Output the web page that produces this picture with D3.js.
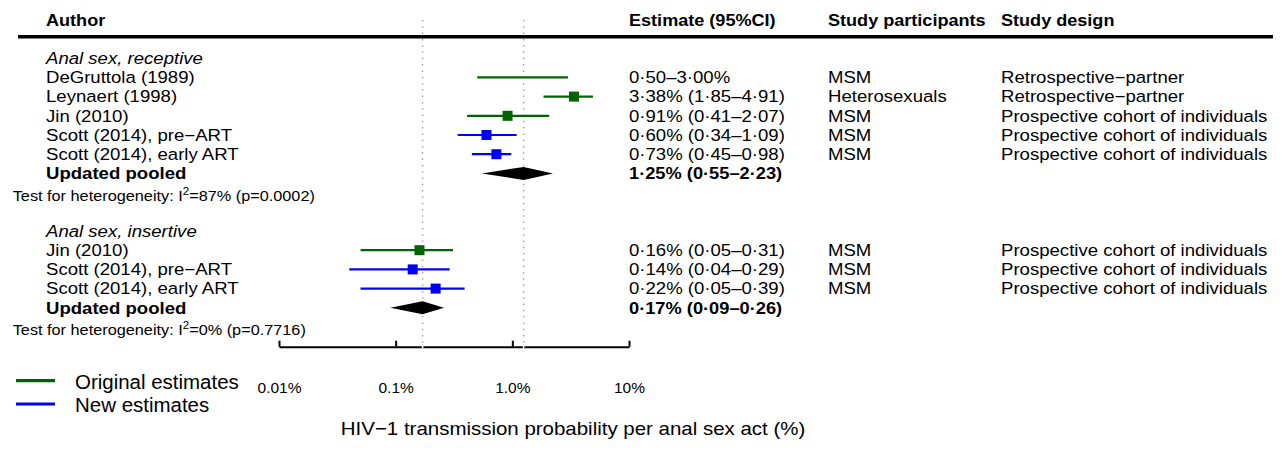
<!DOCTYPE html>
<html>
<head>
<meta charset="utf-8">
<script src="https://cdn.jsdelivr.net/npm/d3@7"></script>
<style>
  body { margin: 0; background: #fff; }
  text { font-family: "Liberation Sans", Arial, sans-serif; fill: #000; }
</style>
</head>
<body>
<div id="chart"></div>
<script>
// data
////////////////////////////
var groupNames = ['Anal sex, receptive', 'Anal sex, insertive'];

var studyGroup = [0, 0, 0, 0, 0, 1, 1, 1];
var studyNames = ['DeGruttola (1989)', 'Leynaert (1998)', 'Jin (2010)',
  'Scott (2014), pre\u2212ART', 'Scott (2014), early ART',
  'Jin (2010)', 'Scott (2014), pre\u2212ART', 'Scott (2014), early ART'];
var studyEst = [null, 3.38, 0.91, 0.60, 0.73, 0.16, 0.14, 0.22];
var studyLo  = [0.50, 1.85, 0.41, 0.34, 0.45, 0.05, 0.04, 0.05];
var studyHi  = [3.00, 4.91, 2.07, 1.09, 0.98, 0.31, 0.29, 0.39];
var studySource = ['orig', 'orig', 'orig', 'new', 'new', 'orig', 'new', 'new'];
var studyParticipants = ['MSM', 'Heterosexuals', 'MSM', 'MSM', 'MSM', 'MSM', 'MSM', 'MSM'];
var studyDesign = ['Retrospective\u2212partner', 'Retrospective\u2212partner',
  'Prospective cohort of individuals', 'Prospective cohort of individuals',
  'Prospective cohort of individuals', 'Prospective cohort of individuals',
  'Prospective cohort of individuals', 'Prospective cohort of individuals'];

var pooledEst = [1.25, 0.17];
var pooledLo  = [0.55, 0.09];
var pooledHi  = [2.23, 0.26];
var hetI2 = ['87%', '0%'];
var hetP  = ['0.7716', '0.7716'];
hetP[0] = '0.0002';

var tickValues = [0.01, 0.1, 1, 10];
var tickLabels = ['0.01%', '0.1%', '1.0%', '10%'];

var headers = ['Author', 'Estimate (95%CI)', 'Study participants', 'Study design'];
var legendLabels = ['Original estimates', 'New estimates'];
var xTitle = 'HIV\u22121 transmission probability per anal sex act (%)';

var colors = { orig: '#006400', new: '#0000ff' };

// layout
////////////////////
var width = 1287, height = 453;

var svg = d3.select('#chart')
  .append('svg')
  .attr('width', width)
  .attr('height', height);

svg.append('rect')
  .attr('width', width)
  .attr('height', height)
  .attr('fill', '#fff');

var x = d3.scaleLog().domain([0.01, 10]).range([279, 629]);
var y = d3.scaleLinear().domain([0, 15]).range([58.2, 346.2]);

var col = { author: 46, est: 629, part: 828, design: 1001 };

function fmt(v) {
  return d3.format('.2f')(v).replace('.', '\u00b7');
}

function addText(str, px, py, size, sx, weight, style) {
  return svg.append('text')
    .attr('transform', 'translate(' + px + ',' + py + ') scale(' + sx + ',1)')
    .style('font-size', size + 'px')
    .style('font-weight', weight || 'normal')
    .style('font-style', style || 'normal')
    .text(str);
}

// work out rows: header, studies, pooled, heterogeneity, blank
var rows = [];
var r = 0;
groupNames.forEach(function(name, gi) {
  rows.push({ type: 'group', gi: gi, row: r++ });
  studyNames.forEach(function(s, si) {
    if (studyGroup[si] === gi) rows.push({ type: 'study', si: si, row: r++ });
  });
  rows.push({ type: 'pooled', gi: gi, row: r++ });
  rows.push({ type: 'het', gi: gi, row: r++ });
  r++;
});
var axisRow = r - 1;

var base = 5.8;   // baseline offset from row centre
var fs = 16.3, sx = 1.14;

// dotted reference lines at pooled estimates
var axisY = y(axisRow) + 0.5;
svg.selectAll('.ref')
  .data(pooledEst)
  .enter()
  .append('line')
  .attr('x1', function(d) { return x(d); })
  .attr('x2', function(d) { return x(d); })
  .attr('y1', 20)
  .attr('y2', axisY)
  .attr('stroke', '#a0a0a0')
  .attr('stroke-width', 1.4)
  .attr('stroke-dasharray', '1.5,4.8');

// header
headers.forEach(function(h, i) {
  var cx = [col.author, col.est, col.part, col.design][i];
  addText(h, cx, 26, 16, 1.13, 'bold');
});

svg.append('line')
  .attr('x1', 18).attr('x2', 1273)
  .attr('y1', 36.7).attr('y2', 36.7)
  .attr('stroke', '#000')
  .attr('stroke-width', 3.5);

// rows
rows.forEach(function(d) {
  var ry = y(d.row);
  if (d.type === 'group') {
    addText(groupNames[d.gi], col.author, ry + base, fs, sx, 'normal', 'italic');
  } else if (d.type === 'study') {
    var i = d.si;
    addText(studyNames[i], col.author, ry + base, fs, sx);
    var lab = studyEst[i] === null
      ? fmt(studyLo[i]) + '\u2013' + fmt(studyHi[i]) + '%'
      : fmt(studyEst[i]) + '% (' + fmt(studyLo[i]) + '\u2013' + fmt(studyHi[i]) + ')';
    addText(lab, col.est, ry + base, fs, sx);
    addText(studyParticipants[i], col.part, ry + base, fs, sx);
    addText(studyDesign[i], col.design, ry + base, fs, sx);

    svg.append('line')
      .attr('x1', x(studyLo[i])).attr('x2', x(studyHi[i]))
      .attr('y1', ry).attr('y2', ry)
      .attr('stroke', colors[studySource[i]])
      .attr('stroke-width', 2.2);
    if (studyEst[i] !== null) {
      svg.append('rect')
        .attr('x', x(studyEst[i]) - 5).attr('y', ry - 5)
        .attr('width', 10).attr('height', 10)
        .attr('fill', colors[studySource[i]]);
    }
  } else if (d.type === 'pooled') {
    var g = d.gi;
    addText('Updated pooled', col.author, ry + base, fs, sx, 'bold');
    addText(fmt(pooledEst[g]) + '% (' + fmt(pooledLo[g]) + '\u2013' + fmt(pooledHi[g]) + ')',
      col.est, ry + base, fs, 1.12, 'bold');
    var hh = 6.5;
    svg.append('path')
      .attr('d', 'M' + x(pooledLo[g]) + ',' + ry +
        'L' + x(pooledEst[g]) + ',' + (ry - hh) +
        'L' + x(pooledHi[g]) + ',' + ry +
        'L' + x(pooledEst[g]) + ',' + (ry + hh) + 'Z')
      .attr('fill', '#000');
  } else if (d.type === 'het') {
    var t = svg.append('text')
      .attr('transform', 'translate(12.7,' + (ry + 8.2) + ') scale(1.1,1)')
      .style('font-size', '14.8px');
    t.append('tspan').text('Test for heterogeneity: I');
    t.append('tspan').attr('dy', -6).style('font-size', '10.5px').text('2');
    t.append('tspan').attr('dy', 6).text('=' + hetI2[d.gi] + ' (p=' + hetP[d.gi] + ')');
  }
});

// x axis
var axis = d3.axisBottom(x)
  .tickValues(tickValues)
  .tickFormat(function(d, i) { return tickLabels[i]; })
  .tickSize(-6)
  .tickSizeOuter(0)
  .tickPadding(35);

var ax = svg.append('g')
  .attr('transform', 'translate(0,' + axisY + ')')
  .call(axis);

ax.select('.domain').attr('stroke', '#000').attr('stroke-width', 2);
ax.selectAll('.tick line').attr('stroke', '#000').attr('stroke-width', 2);
ax.selectAll('.tick text')
  .style('font-family', '"Liberation Sans", Arial, sans-serif')
  .style('font-size', '15.5px')
  .attr('fill', '#000');

// small white gaps where the reference lines cross the axis
svg.selectAll('.gap')
  .data(pooledEst)
  .enter()
  .append('line')
  .attr('x1', function(d) { return x(d); })
  .attr('x2', function(d) { return x(d); })
  .attr('y1', axisY - 1.5)
  .attr('y2', axisY + 1.5)
  .attr('stroke', '#fff')
  .attr('stroke-width', 1.6);

// legend
legendLabels.forEach(function(l, i) {
  var ly = [380.7, 404][i];
  svg.append('line')
    .attr('x1', 16).attr('x2', 55)
    .attr('y1', ly).attr('y2', ly)
    .attr('stroke', [colors.orig, colors.new][i])
    .attr('stroke-width', 3.2);
  addText(l, 75, ly + 8, 19.5, 1.05);
});

// x title
svg.append('text')
  .attr('transform', 'translate(573,435) scale(1.1,1)')
  .attr('text-anchor', 'middle')
  .style('font-size', '18.6px')
  .text(xTitle);
</script>
</body>
</html>
